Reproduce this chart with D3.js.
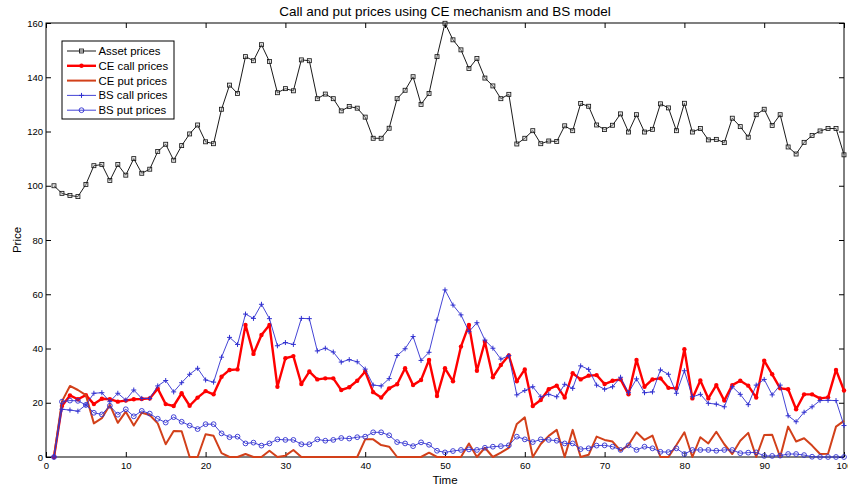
<!DOCTYPE html>
<html>
<head>
<meta charset="utf-8">
<script src="https://cdn.jsdelivr.net/npm/d3@7"></script>
<style>
  body { margin: 0; background: #fff; }
  text { font-family: "Liberation Sans", Arial, sans-serif; }
</style>
</head>
<body>
<div id="chart"></div>
<script>
// values, t = 1..100
var assetPrices = [100,97.2,96.4,96.0,100.5,107.4,107.8,101.9,107.8,103.9,
  110.0,104.6,106.1,112.6,115.3,109.4,114.8,119.1,122.4,116.2,
  115.5,128.2,137.1,134.0,147.6,146.1,152.0,145.8,134.3,135.8,
  135.0,146.4,146.1,132.1,133.8,132.1,127.6,129.2,128.6,125.3,
  117.5,117.5,121.2,132.1,135.2,140.2,130.0,134.0,147.6,159.9,
  153.8,150.1,143.2,146.9,139.7,136.8,132.1,133.7,115.4,117.5,
  120.3,115.5,116.5,116.3,122.1,120.3,130.3,129.3,122.4,120.7,
  122.3,126.5,119.8,126.2,119.8,120.8,130.2,128.7,120.3,130.4,
  119.8,121.1,116.9,117.1,115.9,124.9,121.8,117.9,126.2,128.2,
  122.2,126.2,114.3,111.7,116.0,118.5,120.2,121.1,121.1,111.4];

var ceCall = [0,18.8,22.7,21.3,22.8,19.5,21.5,21.3,20.4,20.8,
  21.3,21.4,21.6,25.2,19.5,18.8,23.5,18.9,21.9,24.3,
  23.1,29.6,32.1,32.3,48.7,38.0,45.0,48.7,25.9,36.4,
  37.2,26.9,31.5,28.6,29.0,29.0,24.7,25.7,28.1,31.5,
  23.9,21.9,25.3,26.8,32.7,26.5,28.4,35.8,22.5,32.7,
  27.9,40.7,48.7,31.8,42.5,29.4,33.9,37.4,27.9,32.3,
  18.8,21.0,25.0,26.3,21.9,30.9,28.6,30.0,30.2,26.9,
  28.1,28.6,23.1,35.8,25.9,28.6,29.0,25.5,25.3,39.7,
  21.6,28.2,21.6,26.5,20.8,26.5,28.1,26.3,21.9,35.5,
  30.5,25.3,25.0,17.6,23.1,23.1,21.6,22.0,32.1,24.5];

var cePut = [0,20.5,26.2,24.7,22.8,12.4,14.3,19.2,12.6,16.7,
  11.6,16.3,15.5,12.4,4.7,9.6,9.5,0,0,8.4,
  7.8,1.4,0,0,1.1,0,0,2.3,0,0.5,
  2.6,0,0,0,0,0,0,0,0,6.5,
  6.5,4.4,3.8,0,0,0,0,1.6,0,0,
  0,0,5.0,0,3.4,0,1.6,3.4,12.2,14.6,
  0,4.8,7.8,10.0,0,10.0,0,0.8,7.5,6.3,
  5.7,2.3,4.4,9.1,6.3,7.9,0,0,4.4,9.1,
  0,7.3,5.0,9.3,4.7,1.1,6.0,8.9,0,8.1,
  8.2,0,11.2,5.7,6.9,4.2,1.1,1.2,11.2,13.3];

var bsCall = [0,17.6,17.3,16.9,19.2,23.5,23.7,20.4,23.5,21.0,
  24.7,21.6,21.6,26.2,28.2,24.0,27.4,30.5,32.7,28.4,
  27.6,36.8,44.1,41.5,52.7,51.1,56.3,51.0,41.0,42.2,
  41.5,51.1,51.0,39.1,40.1,38.7,35.0,35.9,35.1,32.4,
  26.5,26.2,28.9,37.4,39.9,44.4,35.6,38.6,50.5,61.6,
  56.0,52.4,46.2,49.5,43.1,40.1,36.1,37.4,22.9,24.5,
  25.9,22.2,23.1,22.2,26.8,25.3,33.6,32.3,26.5,25.0,
  25.9,29.4,23.7,28.8,23.7,24.0,32.1,30.5,23.5,31.8,
  22.2,23.1,19.8,19.5,18.5,25.9,23.1,19.3,26.5,28.6,
  22.9,26.5,15.2,13.0,16.5,18.5,20.8,20.9,20.8,11.6];

var bsPut = [0,20.4,20.8,20.7,19.2,16.3,15.7,18.9,15.6,17.6,
  15.0,17.0,16.0,14.1,12.7,14.7,13.0,11.6,10.3,12.1,
  12.1,8.7,7.3,7.5,5.0,5.3,4.2,5.0,6.5,6.3,
  6.3,4.7,4.7,6.5,6.0,6.3,7.0,6.8,7.3,7.5,
  9.1,9.1,8.0,5.5,5.0,4.0,5.4,4.5,2.3,1.7,
  2.2,2.6,2.8,2.6,3.4,3.8,4.0,4.3,7.5,6.5,
  5.5,6.5,6.3,6.0,5.0,5.0,2.9,3.2,4.2,4.3,
  3.8,2.6,4.3,2.6,3.8,3.2,1.9,1.8,3.2,1.1,
  2.6,2.6,2.6,2.3,2.6,2.6,1.4,1.6,1.7,0.4,
  0.4,0.5,1.1,1.1,0.7,0.1,0,0,0,0];

var xTicks = [0,10,20,30,40,50,60,70,80,90,100];
var yTicks = [0,20,40,60,80,100,120,140,160];

var seriesNames = ["Asset prices","CE call prices","CE put prices","BS call prices","BS put prices"];

var W = 848, H = 487;
var margin = {top: 23, right: 4, bottom: 30, left: 46};
var width = W - margin.left - margin.right,
    height = H - margin.top - margin.bottom;

var svg = d3.select("#chart").append("svg")
    .attr("width", W)
    .attr("height", H);

var g = svg.append("g")
    .attr("transform", "translate(" + margin.left + "," + margin.top + ")");

var x = d3.scaleLinear().domain([0, 100]).range([0, width]);
var y = d3.scaleLinear().domain([0, 160]).range([height, 0]);

// axes, ticks pointing inward on all four sides
var xAxis = g.append("g")
    .attr("transform", "translate(0," + height + ")")
    .call(d3.axisBottom(x).tickValues(xTicks).tickSizeInner(-5).tickSizeOuter(0).tickPadding(5));
var xTop = g.append("g")
    .call(d3.axisTop(x).tickValues(xTicks).tickSizeInner(-5).tickSizeOuter(0).tickFormat(""));
var yAxis = g.append("g")
    .call(d3.axisLeft(y).tickValues(yTicks).tickSizeInner(-5).tickSizeOuter(0).tickPadding(3));
var yRight = g.append("g")
    .attr("transform", "translate(" + width + ",0)")
    .call(d3.axisRight(y).tickValues(yTicks).tickSizeInner(-5).tickSizeOuter(0).tickFormat(""));

g.selectAll(".domain").remove();
g.selectAll(".tick line").attr("stroke", "#000").attr("stroke-width", 1);
g.selectAll(".tick text").style("font-size", "9.5px").attr("fill", "#000");

g.append("rect")
    .attr("x", 0).attr("y", 0)
    .attr("width", width).attr("height", height)
    .attr("fill", "none")
    .attr("stroke", "#000")
    .attr("stroke-width", 1);

var line = d3.line()
    .x(function(d, i) { return x(i + 1); })
    .y(function(d) { return y(d); });

var series = [
  {name: seriesNames[0], values: assetPrices, color: "#000000", width: 0.9, marker: "square"},
  {name: seriesNames[1], values: ceCall, color: "#ff0000", width: 2.4, marker: "dot"},
  {name: seriesNames[2], values: cePut, color: "#d2401a", width: 2, marker: "none"},
  {name: seriesNames[3], values: bsCall, color: "#3030d0", width: 0.9, marker: "plus"},
  {name: seriesNames[4], values: bsPut, color: "#3030d0", width: 0.9, marker: "circle"}
];

function drawMarker(sel, s, cx, cy, legend) {
  if (s.marker == "square") {
    sel.append("rect")
      .attr("x", cx - 2).attr("y", cy - 2)
      .attr("width", 4).attr("height", 4)
      .attr("fill", "#bbb")
      .attr("fill-opacity", 0.4)
      .attr("stroke", "#111")
      .attr("stroke-width", 0.8);
  } else if (s.marker == "dot") {
    sel.append("circle")
      .attr("cx", cx).attr("cy", cy).attr("r", 2.2)
      .attr("fill", s.color);
  } else if (s.marker == "plus") {
    sel.append("path")
      .attr("d", "M" + (cx - 2.5) + "," + cy + "H" + (cx + 2.5) + "M" + cx + "," + (cy - 2.5) + "V" + (cy + 2.5))
      .attr("stroke", s.color)
      .attr("stroke-width", 1);
  } else if (s.marker == "circle") {
    sel.append("circle")
      .attr("cx", cx).attr("cy", cy).attr("r", 2.4)
      .attr("fill", "none")
      .attr("stroke", s.color)
      .attr("stroke-width", 0.9);
  }
}

var plot = g.append("g");
series.forEach(function(s) {
  plot.append("path")
    .datum(s.values)
    .attr("d", line)
    .attr("fill", "none")
    .attr("stroke", s.color)
    .attr("stroke-width", s.width)
    .attr("stroke-linejoin", "round");
  var mk = plot.append("g");
  s.values.forEach(function(v, i) {
    drawMarker(mk, s, x(i + 1), y(v));
  });
});

// title and axis labels
svg.append("text")
    .attr("x", margin.left + width / 2)
    .attr("y", 16)
    .attr("text-anchor", "middle")
    .style("font-size", "13.5px")
    .text("Call and put prices using CE mechanism and BS model");

svg.append("text")
    .attr("x", margin.left + width / 2)
    .attr("y", 484)
    .attr("text-anchor", "middle")
    .style("font-size", "11.5px")
    .text("Time");

svg.append("text")
    .attr("transform", "translate(21," + (margin.top + height / 2) + ") rotate(-90)")
    .attr("text-anchor", "middle")
    .style("font-size", "11.5px")
    .text("Price");

// legend
var legend = svg.append("g").attr("transform", "translate(62,41)");
legend.append("rect")
    .attr("width", 112).attr("height", 78)
    .attr("fill", "#fff")
    .attr("stroke", "#000")
    .attr("stroke-width", 1);

series.forEach(function(s, i) {
  var ly = 10 + i * 14.8;
  var row = legend.append("g");
  row.append("line")
    .attr("x1", 5).attr("x2", 34)
    .attr("y1", ly).attr("y2", ly)
    .attr("stroke", s.color)
    .attr("stroke-width", s.width);
  drawMarker(row, s, 19.5, ly, true);
  row.append("text")
    .attr("x", 36.5)
    .attr("y", ly + 4)
    .style("font-size", "11.4px")
    .text(s.name);
});
</script>
</body>
</html>
